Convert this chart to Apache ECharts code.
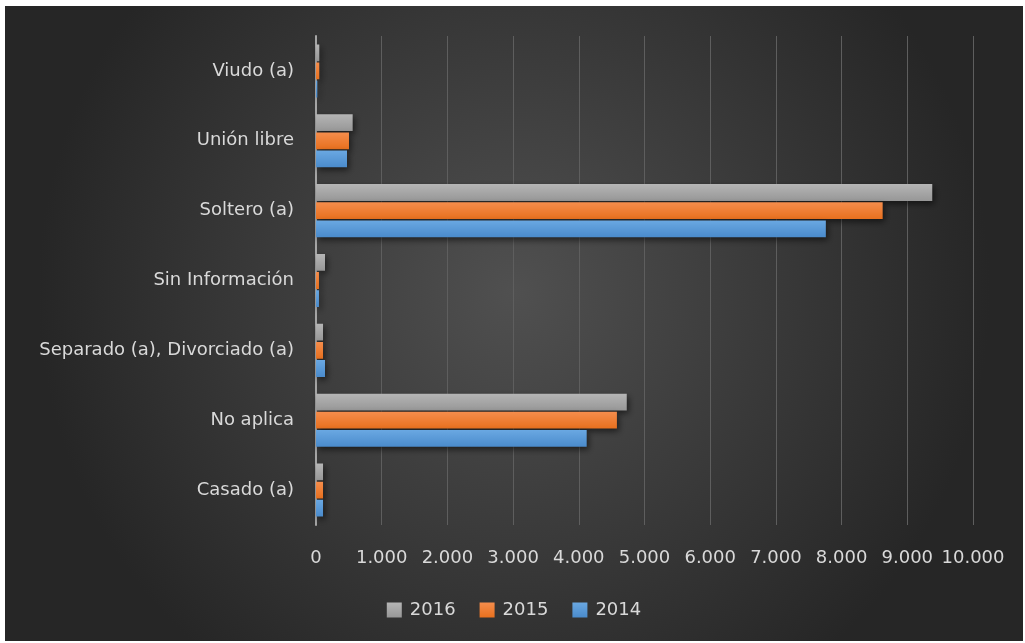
<!DOCTYPE html>
<html>
<head>
<meta charset="utf-8">
<script src="https://cdn.jsdelivr.net/npm/echarts@6/dist/echarts.min.js"></script>
<style>
  html, body { margin: 0; padding: 0; background: #fff; }
  #main { position: absolute; left: 5px; top: 6px; width: 1018px; height: 635px; }
</style>
</head>
<body>
<div id="main"></div>
<script>
// categorías (de abajo hacia arriba)
var categorias = ['Casado (a)', 'No aplica', 'Separado (a), Divorciado (a)', 'Sin Información', 'Soltero (a)', 'Unión libre', 'Viudo (a)'];
var anios = ['2016', '2015', '2014'];
var datos2014 = [107, 4120, 137, 45, 7760, 472, 20];
var datos2015 = [107, 4580, 107, 45, 8625, 502, 50];
var datos2016 = [107, 4730, 107, 137, 9380, 558, 50];
var ticksX = [0, 1000, 2000, 3000, 4000, 5000, 6000, 7000, 8000, 9000, 10000];

var fuente = '"DejaVu Sans", "Noto Sans", sans-serif';
var textoColor = '#d9d9d9';

function degradado(c1, c2) {
  return new echarts.graphic.LinearGradient(0, 0, 0, 1, [
    { offset: 0, color: c1 },
    { offset: 1, color: c2 }
  ]);
}

function serie(nombre, valores, c1, c2) {
  return {
    name: nombre,
    type: 'bar',
    data: valores,
    barGap: '8%',
    barCategoryGap: '24%',
    itemStyle: {
      color: degradado(c1, c2),
      shadowColor: 'rgba(0,0,0,0.55)',
      shadowBlur: 6,
      shadowOffsetX: 2,
      shadowOffsetY: 3
    }
  };
}

var myChart = echarts.init(document.getElementById('main'));
var option = {
  backgroundColor: {
    type: 'radial', x: 0.5, y: 0.45, r: 0.75,
    colorStops: [
      { offset: 0, color: '#505050' },
      { offset: 1, color: '#262626' }
    ]
  },
  textStyle: { fontFamily: fuente },
  grid: { left: 311, right: 50, top: 30, bottom: 116 },
  legend: {
    data: anios,
    bottom: 17,
    left: 'center',
    icon: 'rect',
    itemWidth: 15,
    itemHeight: 15,
    itemGap: 24,
    textStyle: { color: textoColor, fontSize: 18, fontFamily: fuente, padding: [0, 0, 0, 3] }
  },
  xAxis: {
    type: 'value',
    min: ticksX[0],
    max: ticksX[ticksX.length - 1],
    interval: 1000,
    axisLine: { show: false },
    axisTick: { show: false },
    splitLine: { lineStyle: { color: '#5e5e5e', width: 1 } },
    axisLabel: {
      color: textoColor,
      fontSize: 18,
      margin: 24,
      formatter: function (v) {
        return v === 0 ? '0' : String(v).replace(/\B(?=(\d{3})+(?!\d))/g, '.');
      }
    }
  },
  yAxis: {
    type: 'category',
    data: categorias,
    axisLine: { show: true, lineStyle: { color: '#a6a6a6', width: 2 } },
    axisTick: { show: false },
    axisLabel: { color: textoColor, fontSize: 18, margin: 22 }
  },
  series: [
    serie('2016', datos2016, '#b5b5b5', '#979797'),
    serie('2015', datos2015, '#f58d4c', '#e8701e'),
    serie('2014', datos2014, '#6aa8e2', '#4a8bcc')
  ]
};
myChart.setOption(option);
</script>
</body>
</html>
